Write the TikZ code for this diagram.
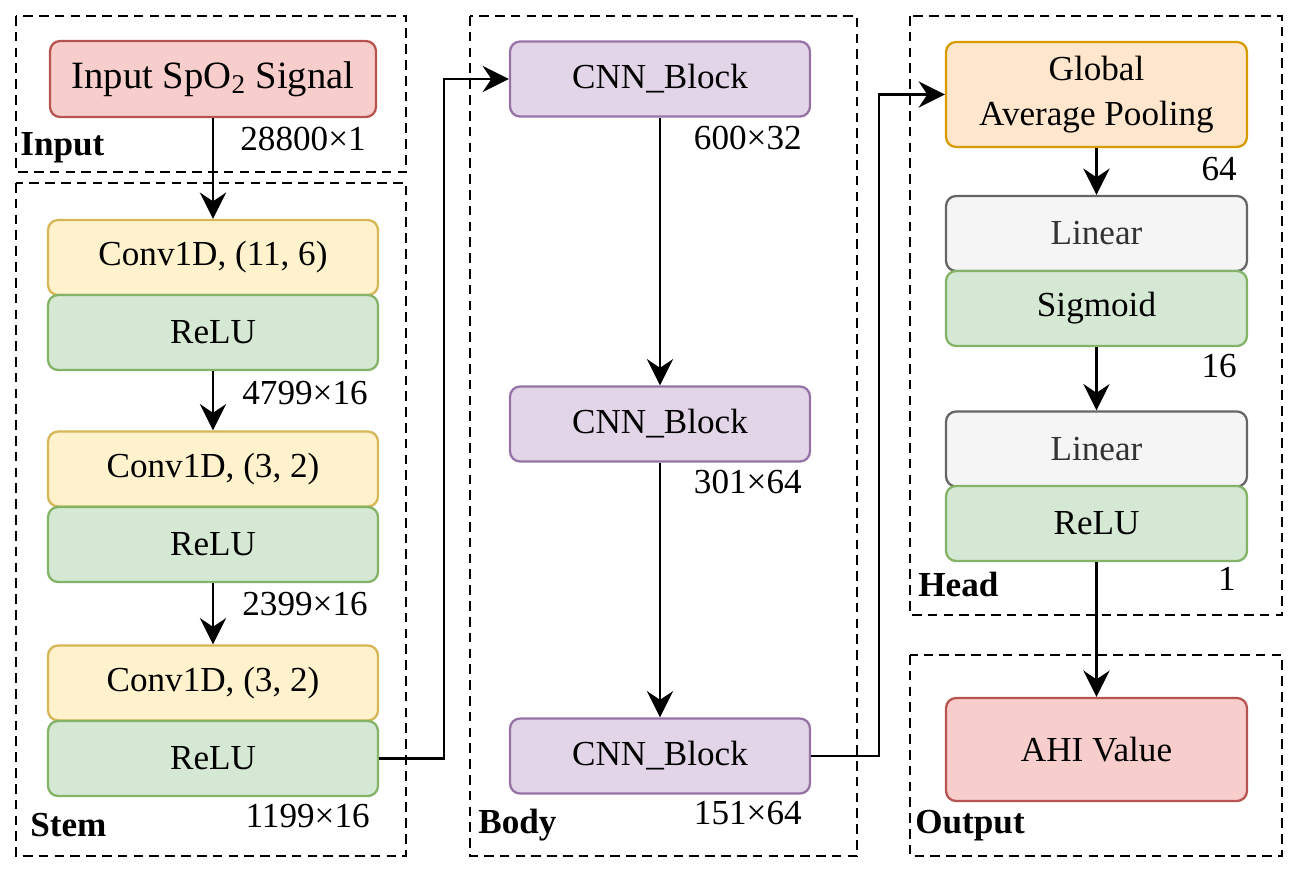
\documentclass[tikz,border=0pt]{standalone}
\usepackage{fontspec}
\setmainfont{Liberation Serif}
\usetikzlibrary{arrows.meta}
\definecolor{redfill}{HTML}{F8CECC}
\definecolor{redline}{HTML}{B85450}
\definecolor{yelfill}{HTML}{FFF2CC}
\definecolor{yelline}{HTML}{D6B656}
\definecolor{grnfill}{HTML}{D5E8D4}
\definecolor{grnline}{HTML}{82B366}
\definecolor{purfill}{HTML}{E1D5E7}
\definecolor{purline}{HTML}{9673A6}
\definecolor{orgfill}{HTML}{FFE6CC}
\definecolor{orgline}{HTML}{D79B00}
\definecolor{gryfill}{HTML}{F5F5F5}
\definecolor{gryline}{HTML}{666666}
\definecolor{grytext}{HTML}{333333}
\begin{document}
\begin{tikzpicture}[x=0.02cm,y=-0.02cm,font=\fontsize{20}{25.6}\selectfont,
  block/.style={rounded corners=0.2cm,line width=1.3pt,minimum width=6.6cm,minimum height=1.5cm,align=center,inner sep=0pt},
  inblock/.style={block,fill=redfill,draw=redline},
  convblock/.style={block,fill=yelfill,draw=yelline},
  actblock/.style={block,fill=grnfill,draw=grnline},
  cnnblock/.style={block,fill=purfill,draw=purline,minimum width=6cm},
  poolblock/.style={block,fill=orgfill,draw=orgline,minimum width=6.02cm,minimum height=2.1cm},
  linblock/.style={block,fill=gryfill,draw=gryline,text=grytext,minimum width=6.02cm},
  group/.style={line width=1.5pt,dash pattern=on 5.5pt off 3.5pt},
  grouplabel/.style={font=\fontsize{20}{24}\selectfont\bfseries,anchor=base west,inner sep=0pt},
  dimlabel/.style={anchor=base east,inner sep=0pt},
  arr/.style={line width=1.3pt,-{Stealth[length=15pt,width=15pt,inset=5pt]}}]
\useasboundingbox (0,0) rectangle (1302,876);
\draw[group] (16,16) rectangle (406,172);
\draw[group] (16,183) rectangle (406,856);
\draw[group] (470,16) rectangle (857,856);
\draw[group] (910,16) rectangle (1282,615);
\draw[group] (910,655) rectangle (1282,856);
\node[inblock,minimum width=6.52cm,minimum height=1.52cm,font=\fontsize{22}{26}\selectfont] (insig) at (213,79) {Input SpO\textsubscript{2} Signal};
\node[convblock] (conva) at (213,257.5) {Conv1D, (11, 6)};
\node[actblock] (relua) at (213,332.5) {ReLU};
\node[convblock] (convb) at (213,469) {Conv1D, (3, 2)};
\node[actblock] (relub) at (213,544.5) {ReLU};
\node[convblock] (convc) at (213,683) {Conv1D, (3, 2)};
\node[actblock] (reluc) at (213,758.5) {ReLU};
\node[cnnblock] (cnna) at (660,79) {CNN\_Block};
\node[cnnblock] (cnnb) at (660,424) {CNN\_Block};
\node[cnnblock] (cnnc) at (660,756) {CNN\_Block};
\node[poolblock] (gap) at (1096.5,94.5) {Global\\Average Pooling};
\node[linblock] (lina) at (1096.5,233.5) {Linear};
\node[actblock,minimum width=6.02cm] (sigm) at (1096.5,308.5) {Sigmoid};
\node[linblock] (linb) at (1096.5,449) {Linear};
\node[actblock,minimum width=6.02cm] (relud) at (1096.5,523.5) {ReLU};
\node[inblock,minimum width=6.02cm,minimum height=2.06cm] (ahi) at (1096.5,749.5) {AHI Value};
\node[grouplabel] (lblin) at (20,155) {Input};
\node[grouplabel] (lblstem) at (30,836) {Stem};
\node[grouplabel] (lblbody) at (478,833) {Body};
\node[grouplabel] (lblhead) at (918,596) {Head};
\node[grouplabel] (lblout) at (915,833) {Output};
\node[dimlabel] (dima) at (366,150) {28800×1};
\node[dimlabel] (dimb) at (368,404) {4799×16};
\node[dimlabel] (dimc) at (368,615) {2399×16};
\node[dimlabel] (dimd) at (370,827) {1199×16};
\node[dimlabel] (dime) at (802,149) {600×32};
\node[dimlabel] (dimf) at (802,493) {301×64};
\node[dimlabel] (dimg) at (802,824) {151×64};
\node[dimlabel] (dimh) at (1237,180) {64};
\node[dimlabel] (dimi) at (1237,377) {16};
\node[dimlabel] (dimj) at (1236,590) {1};
\draw[arr] (insig) -- (conva);
\draw[arr] (relua) -- (convb);
\draw[arr] (relub) -- (convc);
\draw[arr] (reluc.east) -- ++(65,0) |- (cnna.west);
\draw[arr] (cnna) -- (cnnb);
\draw[arr] (cnnb) -- (cnnc);
\draw[arr] (cnnc.east) -- ++(68,0) |- (gap.west);
\draw[arr] (gap) -- (lina);
\draw[arr] (sigm) -- (linb);
\draw[arr] (relud) -- (ahi);
\end{tikzpicture}
\end{document}
